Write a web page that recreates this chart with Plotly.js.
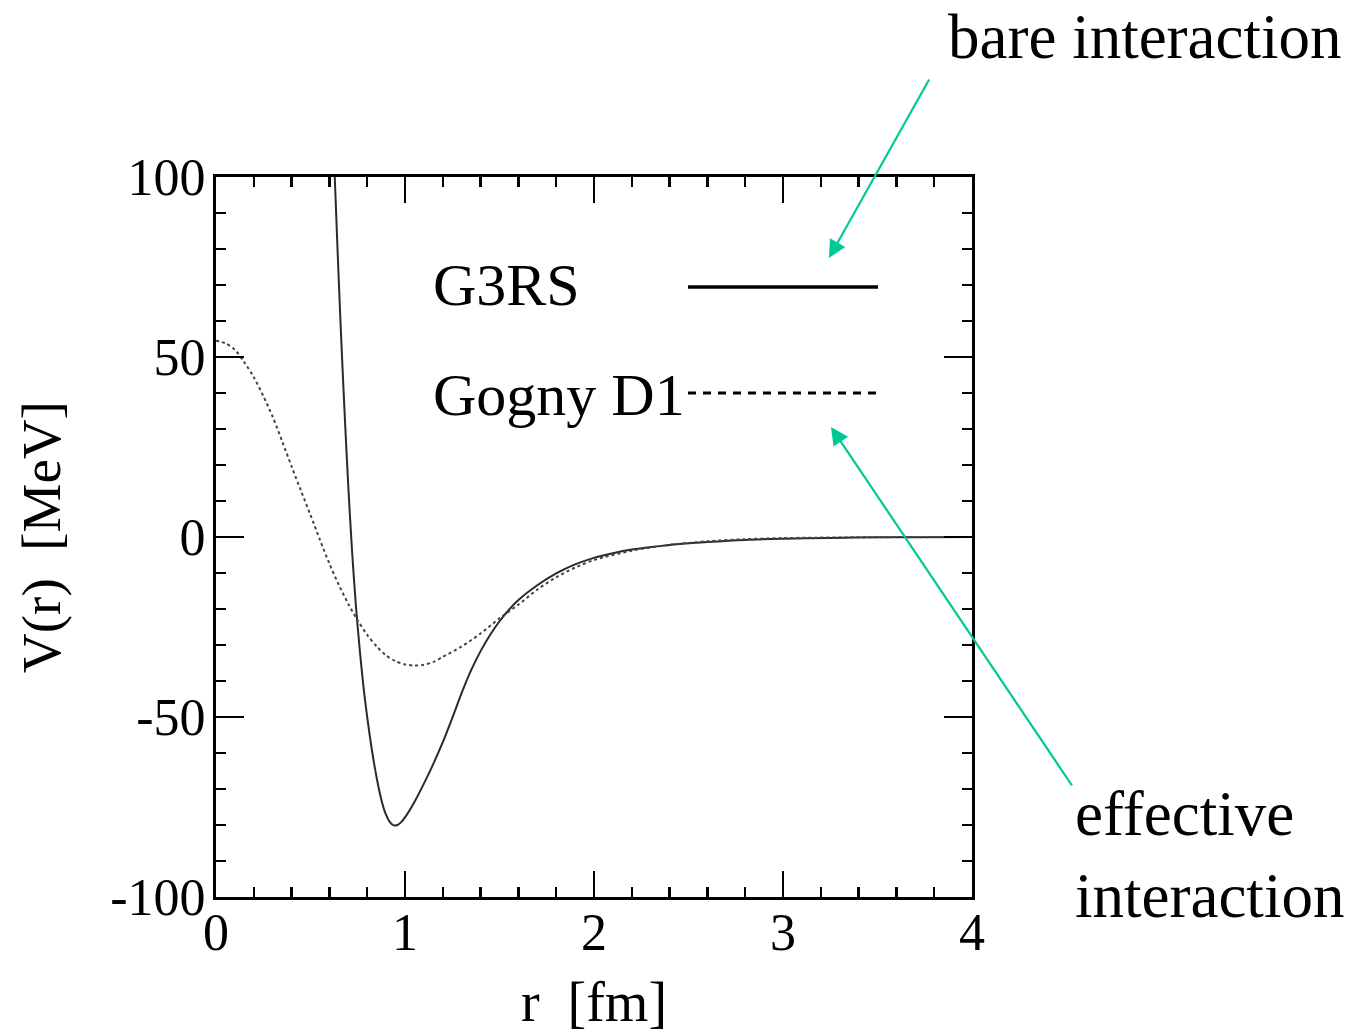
<!DOCTYPE html>
<html>
<head>
<meta charset="utf-8">
<script src="https://cdn.plot.ly/plotly-3.0.1.min.js"></script>
<style>html,body{margin:0;padding:0;background:#fff;}#chart{width:1358px;height:1035px;}</style>
</head>
<body>
<div id="chart"></div>
<script>
// G3RS (bare interaction)
const r_g3rs = [0.60, 0.62, 0.64, 0.66, 0.68, 0.70, 0.72, 0.74, 0.76, 0.78, 0.80, 0.82, 0.84, 0.86, 0.88, 0.90, 0.92, 0.94, 0.96, 0.98, 1.0, 1.05, 1.10, 1.15, 1.20, 1.25, 1.30, 1.35, 1.40, 1.45, 1.50, 1.55, 1.60, 1.70, 1.80, 1.90, 2.0, 2.1, 2.2, 2.4, 2.6, 2.8, 3.0, 3.25, 3.5, 3.75, 4.0];
const v_g3rs = [142, 112, 84, 58, 35, 14, -4, -19, -31, -41.5, -50, -57.5, -64, -69.5, -74, -77.2, -79.2, -80.1, -80, -79.2, -77.9, -73.6, -68.5, -63.0, -57, -50.3, -43.3, -37.0, -31.7, -27.2, -23.4, -20.2, -17.5, -13.4, -10.1, -7.6, -5.8, -4.5, -3.5, -2.2, -1.4, -0.8, -0.5, -0.25, -0.1, -0.05, 0];
// Gogny D1 (effective interaction)
const r_gogny = [0, 0.05, 0.1, 0.15, 0.2, 0.25, 0.3, 0.35, 0.4, 0.45, 0.5, 0.55, 0.6, 0.65, 0.7, 0.75, 0.8, 0.85, 0.9, 0.95, 1.0, 1.05, 1.1, 1.15, 1.2, 1.3, 1.4, 1.5, 1.6, 1.7, 1.8, 1.9, 2.0, 2.2, 2.4, 2.6, 2.8, 3.0, 3.5, 4.0];
const v_gogny = [54.5, 53.8, 52, 48.5, 44.4, 39.2, 33.4, 26.6, 19.6, 12.8, 6.1, -0.8, -7.4, -13.3, -18.6, -23.2, -27.2, -30.4, -32.9, -34.5, -35.4, -35.7, -35.5, -34.7, -33.3, -30.4, -26.8, -22.6, -18.8, -14.6, -11.2, -8.5, -6.4, -3.8, -2.2, -1.2, -0.6, -0.3, -0.05, 0];

const xTickVals = [0, 1, 2, 3, 4];
const yTickVals = [-100, -50, 0, 50, 100];

const serif = "Liberation Serif";
const green = "#00c896";

const traces = [
  {x: r_g3rs, y: v_g3rs, mode: "lines", name: "G3RS", line: {color: "#2a2a2a", width: 2, shape: "spline", smoothing: 0.8}, showlegend: false},
  {x: r_gogny, y: v_gogny, mode: "lines", name: "Gogny D1", line: {color: "#444", width: 2, dash: "3px,3px", shape: "spline", smoothing: 0.8}, showlegend: false}
];

const L = 216, R = 972, T = 177, B = 897, W = 1358, H = 1035;
const px = v => (v - L) / (R - L);
const py = v => (B - v) / (B - T);

const layout = {
  width: W, height: H,
  margin: {l: L, r: W - R, t: T, b: H - B, pad: 0},
  paper_bgcolor: "#fff", plot_bgcolor: "#fff",
  font: {family: serif, color: "#000"},
  showlegend: false,
  xaxis: {
    range: [0, 4], tickvals: xTickVals, ticktext: xTickVals.map(String),
    ticks: "inside", ticklen: 26, tickwidth: 2.5, tickcolor: "#000",
    minor: {dtick: 0.2, ticks: "inside", ticklen: 10, tickwidth: 2.5, tickcolor: "#000", showgrid: false},
    showline: true, linewidth: 3, linecolor: "#000", mirror: "ticks",
    showgrid: false, zeroline: false,
    ticklabelstandoff: -12,
    tickfont: {family: serif, size: 52, color: "#000"},
    title: {text: "r\u00a0\u00a0[fm]", font: {family: serif, size: 56, color: "#000"}, standoff: 22}
  },
  yaxis: {
    range: [-100, 100], tickvals: yTickVals, ticktext: yTickVals.map(String),
    ticks: "inside", ticklen: 28, tickwidth: 2.5, tickcolor: "#000",
    minor: {dtick: 10, ticks: "inside", ticklen: 10, tickwidth: 2.5, tickcolor: "#000", showgrid: false},
    showline: true, linewidth: 3, linecolor: "#000", mirror: "ticks",
    showgrid: false, zeroline: false,
    ticklabelstandoff: -3,
    tickfont: {family: serif, size: 52, color: "#000"},
    title: {text: "V(r)\u00a0\u00a0[MeV]", font: {family: serif, size: 55, color: "#000"}, standoff: 33}
  },
  shapes: [
    {type: "line", xref: "paper", yref: "paper", x0: px(688), x1: px(878), y0: py(287), y1: py(287), line: {color: "#000", width: 3.5}},
    {type: "line", xref: "paper", yref: "paper", x0: px(688), x1: px(878), y0: py(393), y1: py(393), line: {color: "#000", width: 3, dash: "8px,7px"}}
  ],
  annotations: [
    {xref: "paper", yref: "paper", x: px(431), y: py(285), xanchor: "left", yanchor: "middle", text: "G3RS", showarrow: false, font: {family: serif, size: 60, color: "#000"}},
    {xref: "paper", yref: "paper", x: px(431), y: py(395), xanchor: "left", yanchor: "middle", text: "Gogny D1", showarrow: false, font: {family: serif, size: 60, color: "#000"}},
    {xref: "paper", yref: "paper", x: px(946), y: py(37), xanchor: "left", yanchor: "middle", text: "bare interaction", showarrow: false, font: {family: serif, size: 63, color: "#000"}},
    {xref: "paper", yref: "paper", x: px(1073), y: py(855), xanchor: "left", yanchor: "middle", align: "left", text: "effective<br>interaction", showarrow: false, font: {family: serif, size: 63, color: "#000"}},
    {xref: "paper", yref: "paper", x: px(829), y: py(258), text: "", showarrow: true, ax: 101, ay: -180, arrowhead: 2, arrowsize: 1.6, arrowwidth: 2.2, arrowcolor: green, standoff: 0},
    {xref: "paper", yref: "paper", x: px(831), y: py(427), text: "", showarrow: true, ax: 242, ay: 360, arrowhead: 2, arrowsize: 1.6, arrowwidth: 2.2, arrowcolor: green, standoff: 0}
  ]
};

Plotly.newPlot("chart", traces, layout, {displayModeBar: false, staticPlot: true});
</script>
</body>
</html>
